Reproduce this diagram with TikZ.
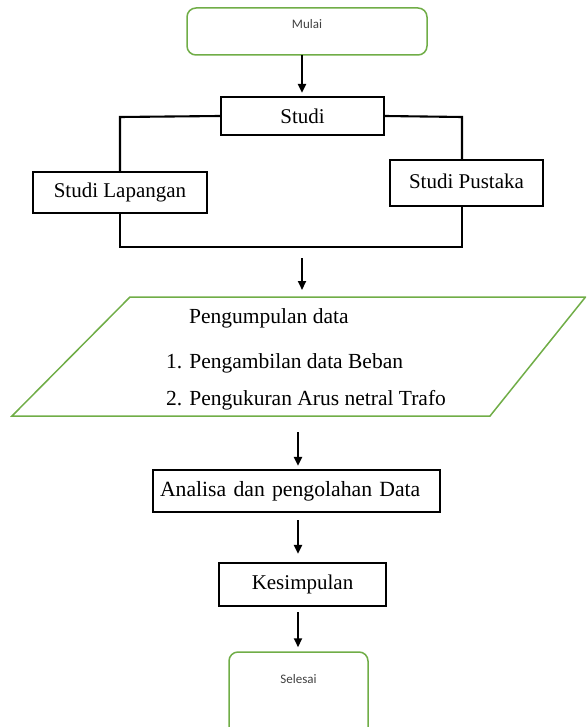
\documentclass[tikz,border=0pt]{standalone}
\usepackage{fontspec}
\setmainfont{Liberation Serif}
\newfontfamily\calib{Carlito}
\usetikzlibrary{arrows.meta}
\definecolor{grn}{HTML}{70AD47}
\definecolor{dgray}{HTML}{404040}
\tikzset{
  box/.style={draw=black, line width=2.3pt, fill=white, font=\fontsize{21}{24}\selectfont, inner sep=0pt},
  term/.style={draw=grn, line width=1.5pt, rounded corners=9pt, inner sep=0pt},
  conn/.style={draw=black, line width=2.1pt},
  arr/.style={conn, -{Triangle[length=9pt,width=8pt]}},
  small/.style={font=\calib\fontsize{13}{15}\selectfont, text=dgray, inner sep=0pt},
  body/.style={font=\fontsize{21.5}{24}\selectfont, inner sep=0pt, anchor=west}
}
\begin{document}
\begin{tikzpicture}[x=1pt,y=-1pt]
\useasboundingbox (0,0) rectangle (586,727);
\clip (0,0) rectangle (586,727);
% terminals
\node[term, minimum width=240pt, minimum height=47pt,
  label={[small, anchor=center, yshift=7pt]center:Mulai}] (mulai) at (307,31.5) {};
\node[term, minimum width=139pt, minimum height=100pt,
  label={[small, anchor=center, yshift=-28pt]north:Selesai}] (selesai) at (298.5,702) {};
% boxes
\node[box, minimum width=163pt, minimum height=38pt] (studi) at (302.5,116) {Studi};
\node[box, minimum width=174pt, minimum height=41pt] (slap) at (120,192.5) {Studi Lapangan};
\node[box, minimum width=153pt, minimum height=46pt] (spus) at (466.5,183) {\raisebox{3pt}{Studi Pustaka}};
\node[box, minimum width=287pt, minimum height=42pt, text width=273pt, align=left,
  font=\fontsize{21.7}{24}\selectfont] (anal) at (296.5,491) {Analisa dan pengolahan Data};
\node[box, minimum width=167pt, minimum height=43pt] (kes) at (302.5,584.5) {Kesimpulan};
% parallelogram
\coordinate (p1) at (130,297);
\coordinate (p2) at (585.5,297);
\coordinate (p3) at (490,416);
\coordinate (p4) at (12,416);
\draw[grn, line width=1.5pt, line join=miter] (p1) -- (p2) -- (p3) -- (p4) -- cycle;
\node[body] (t1) at (189,318) {Pengumpulan data};
\node[body] (t2) at (166,363) {1.\hspace{7pt}Pengambilan data Beban};
\node[body] (t3) at (166,400) {2.\hspace{7pt}Pengukuran Arus netral Trafo};
% connectors
\coordinate (jl) at (120,117);
\coordinate (jr) at (462,117);
\coordinate (jb) at (120,247);
\draw[conn] (studi.west) -- (jl) -- (slap.north);
\draw[conn] (studi.east) -- (jr) -- (jr |- spus.north);
\draw[conn] (slap.south) -- (jb) -| (jr |- spus.south);
% arrows
\coordinate (a0) at (302,55);
\coordinate (a1s) at (302,258);
\coordinate (a1e) at (302,290);
\coordinate (a2s) at (298,432);
\coordinate (a3s) at (298,520);
\coordinate (a4s) at (298,612);
\draw[arr, shorten >=3pt] (a0) -- (a0 |- studi.north);
\draw[arr] (a1s) -- (a1e);
\draw[arr, shorten >=3pt] (a2s) -- (a2s |- anal.north);
\draw[arr, shorten >=8pt] (a3s) -- (a3s |- kes.north);
\draw[arr, shorten >=4pt] (a4s) -- (a4s |- selesai.north);
\end{tikzpicture}
\end{document}
